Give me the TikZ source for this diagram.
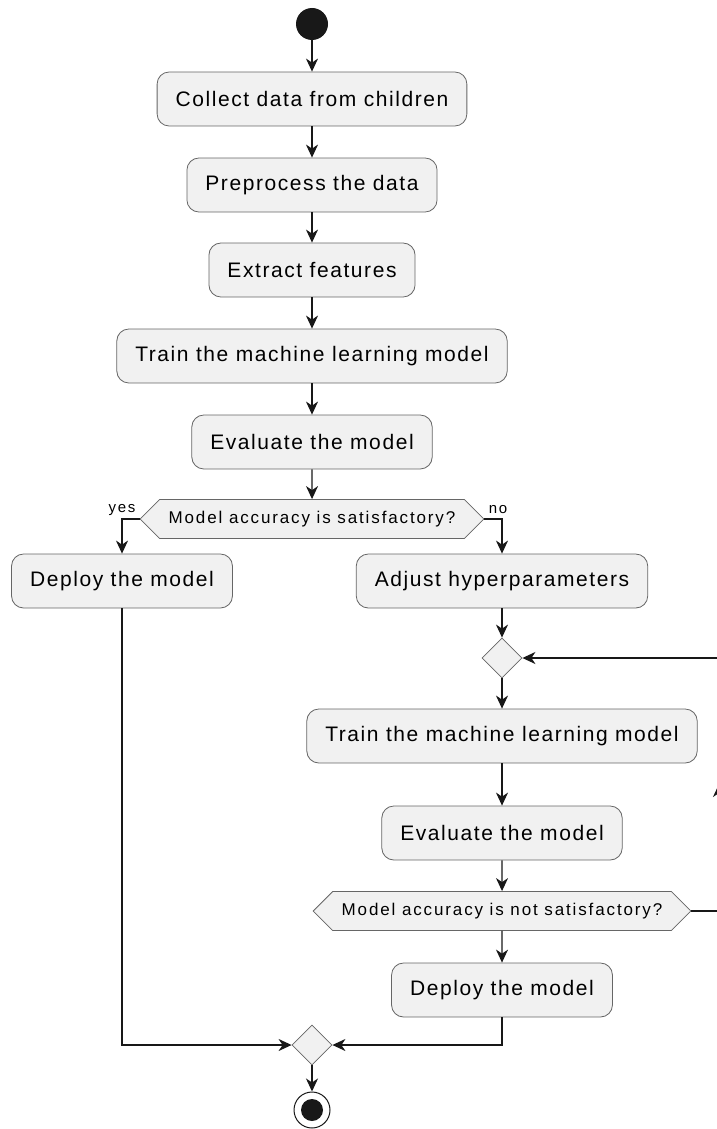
\documentclass[tikz,border=0pt]{standalone}
\usepackage{fontspec}
\setmainfont{Liberation Sans}[LetterSpace=7.5]
\newfontfamily\condfont{Liberation Sans}[LetterSpace=11]
\usepackage{tikz}
\usetikzlibrary{arrows.meta,calc,positioning,shapes.geometric,shapes.symbols}
\definecolor{boxfill}{HTML}{F1F1F1}
\definecolor{boxline}{HTML}{181818}

\begin{document}
\begin{tikzpicture}[x=1pt, y=-1pt,
  act/.style={draw=black!60, fill=boxfill, rounded corners=12pt, line width=0.8pt,
    minimum height=54pt, inner xsep=18.5pt, font=\fontsize{21}{24}\selectfont},
  cond/.style={draw=black!60, fill=boxfill, shape=signal, signal to=east and west,
    signal pointer angle=90, line width=0.8pt, minimum height=39pt, inner xsep=9pt,
    font=\condfont\fontsize{17}{20}\selectfont},
  merge/.style={draw=black!60, fill=boxfill, diamond, line width=0.8pt,
    minimum size=40pt, inner sep=0pt},
  lbl/.style={font=\condfont\fontsize{15}{17}\selectfont},
  flow/.style={draw=boxline, line width=1.3pt,
    -{Stealth[length=13pt, width=12pt, inset=4pt]}}]
\useasboundingbox (0,0) rectangle (716,1129);

% Flusso principale
\node[circle, fill=boxline, minimum size=32pt, inner sep=0pt] (start) at (312,24) {};
\node[act] (a1) at (312,99)  {Collect data from children};
\node[act] (a2) at (312,185) {Preprocess the data};
\node[act] (a3) at (312,270) {Extract features};
\node[act] (a4) at (312,356) {Train the machine learning model};
\node[act] (a5) at (312,442) {Evaluate the model};
\node[cond] (c1) at (312,519) {Model accuracy is satisfactory?};

\draw[flow] (start) -- (a1);
\draw[flow] (a1) -- (a2);
\draw[flow] (a2) -- (a3);
\draw[flow] (a3) -- (a4);
\draw[flow] (a4) -- (a5);
\draw[flow] (a5) -- (c1);

% Rami yes / no
\node[act] (d1) at (122,581) {Deploy the model};
\node[act] (b1) at (502,581) {Adjust hyperparameters};
\draw[flow] (c1.west) -| (d1.north);
\draw[flow] (c1.east) -| (b1.north);
\node[lbl] (yes) at (122,510) {yes};
\node[lbl] (no)  at (498,510) {no};

% Ciclo di riaddestramento
\node[merge] (m1) at (502,658) {};
\node[act] (b2) at (502,736) {Train the machine learning model};
\node[act] (b3) at (502,833) {Evaluate the model};
\node[cond] (c2) at (502,911) {Model accuracy is not satisfactory?};
\node[act] (d2) at (502,990) {Deploy the model};

\draw[flow] (b1) -- (m1);
\draw[flow] (m1) -- (b2);
\draw[flow] (b2) -- (b3);
\draw[flow] (b3) -- (c2);
\draw[flow] (c2) -- (d2);

\coordinate (lb) at (719,911);
\coordinate (lm) at (719,784);
\coordinate (lt) at (719,658);
\draw[flow] (c2.east) -- (lb) -- (lm);
\draw[flow] (lm) -- (lt) -- (m1.east);

% Fine
\node[merge] (m2) at (312,1045) {};
\node[circle, draw=boxline, fill=white, line width=1pt, minimum size=36pt, inner sep=0pt] (stop) at (312,1110) {};
\node[circle, fill=boxline, minimum size=22pt, inner sep=0pt] (stopdot) at (stop) {};

\draw[flow] (d1.south) |- (m2.west);
\draw[flow] (d2.south) |- (m2.east);
\draw[flow] (m2) -- (stop);

\end{tikzpicture}
\end{document}
